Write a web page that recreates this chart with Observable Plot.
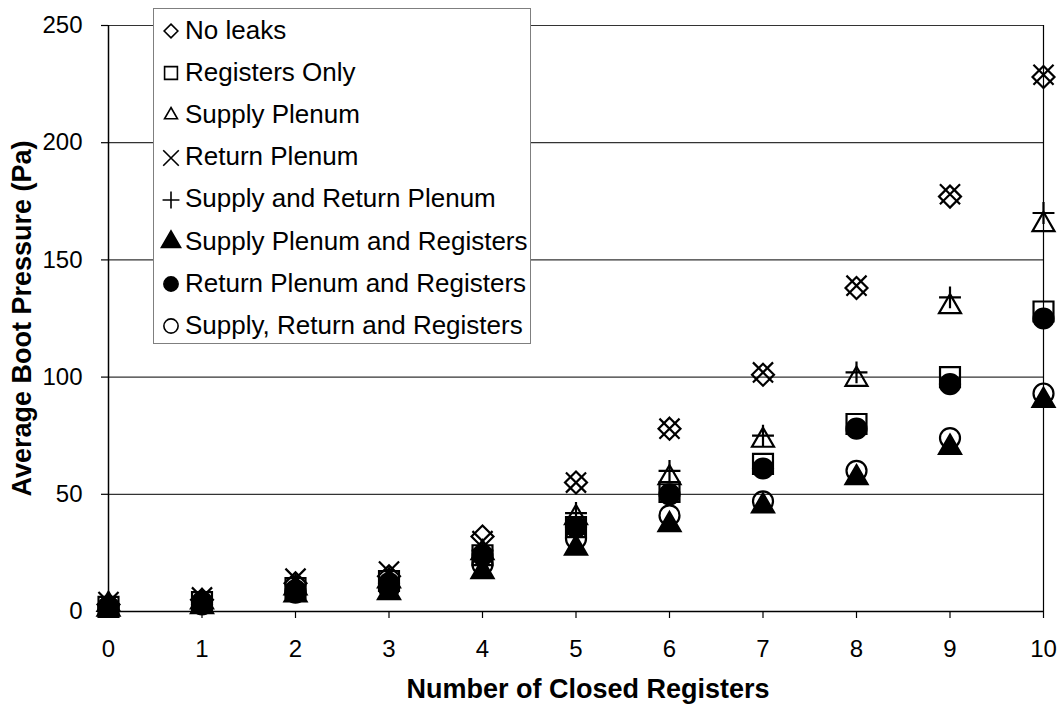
<!DOCTYPE html>
<html><head><meta charset="utf-8">
<script src="https://cdn.jsdelivr.net/npm/d3@7"></script>
<script src="https://cdn.jsdelivr.net/npm/@observablehq/plot@0.6"></script>
<style>
body{margin:0;background:#fff;font-family:"Liberation Sans",Arial,sans-serif;}
#wrap{position:relative;width:1062px;height:713px;}
#legend{position:absolute;left:153px;top:8px;width:378px;height:336px;background:#fff;border:1.5px solid #7f7f7f;box-sizing:border-box;}
.item{position:absolute;left:0;height:42px;display:flex;align-items:center;font-size:26px;color:#000;white-space:nowrap;}
.item svg{flex:none;}
</style></head><body><div id="wrap"></div>
<script>
// Data
const closedRegisters = [0, 1, 2, 3, 4, 5, 6, 7, 8, 9, 10];
const noLeaks          = [3, 5, 12, 15, 32, 55, 78, 101, 138, 177, 228];
const registersOnly    = [2, 4, 10, 13, 24, 36, 51, 63, 80, 100, 128];
const supplyPlenum     = [3, 4, 10, 13, 25, 40, 57, 73, 99, 130, 165];
const returnPlenum     = [4, 6, 14, 17, 30, 55, 78, 102, 139, 178, 229];
const supplyReturnPlenum = [3, 5, 11, 14, 26, 42, 60, 75, 102, 134, 170];
const supplyPlenumRegisters = [1, 2, 7, 8, 17, 27, 37, 45, 57, 70, 90];
const returnPlenumRegisters = [2, 4, 9, 12, 24, 36, 50, 61, 78, 97, 125];
const supplyReturnRegisters = [2, 3, 8, 10, 20, 31, 41, 47, 60, 74, 93];

const seriesNames = ["No leaks", "Registers Only", "Supply Plenum", "Return Plenum",
  "Supply and Return Plenum", "Supply Plenum and Registers", "Return Plenum and Registers",
  "Supply, Return and Registers"];
const seriesValues = [noLeaks, registersOnly, supplyPlenum, returnPlenum,
  supplyReturnPlenum, supplyPlenumRegisters, returnPlenumRegisters, supplyReturnRegisters];
const xTicks = [0, 1, 2, 3, 4, 5, 6, 7, 8, 9, 10];
const yTicks = [0, 50, 100, 150, 200, 250];
const xTitle = "Number of Closed Registers";
const yTitle = "Average Boot Pressure (Pa)";

// marker styles
const markerStyles = [
  {symbol: "diamond2", r: 9.9, fill: "none", d3s: d3.symbolDiamond2, ls: 120},
  {symbol: "square2", r: 12.7, fill: "none", d3s: d3.symbolSquare2, ls: 210},
  {symbol: "triangle2", r: 10.5, fill: "none", d3s: d3.symbolTriangle2, ls: 120},
  {symbol: "times", r: 9.2, fill: "none", d3s: d3.symbolTimes, ls: 160},
  {symbol: "plus", r: 7.1, fill: "none", d3s: d3.symbolPlus, ls: 95},
  {symbol: "triangle", r: 8.2, fill: "black", d3s: d3.symbolTriangle, ls: 160},
  {symbol: "circle", r: 10, fill: "black", d3s: d3.symbolCircle, ls: 160},
  {symbol: "circle", r: 10, fill: "none", d3s: d3.symbolCircle, ls: 160}
];

const rows = [];
seriesNames.forEach((name, i) => {
  closedRegisters.forEach((x, j) => rows.push({series: name, x, y: seriesValues[i][j]}));
});

const dotMarks = seriesNames.map((name, i) => {
  const s = markerStyles[i];
  return Plot.dot(rows.filter(d => d.series === name), {
    x: "x", y: "y", symbol: () => s.symbol, r: s.r,
    fill: s.fill, stroke: "black", strokeWidth: 2.2
  });
});

const chart = Plot.plot({
  width: 1062, height: 713,
  marginLeft: 108, marginRight: 19, marginTop: 25, marginBottom: 102,
  style: {fontFamily: "Liberation Sans, Arial, sans-serif", fontSize: "24px", color: "#000", background: "#fff", overflow: "visible"},
  x: {domain: [0, 10]},
  y: {domain: [0, 250]},
  symbol: {type: "identity"},
  marks: [
    Plot.ruleY(yTicks.filter(d => d > 0), {stroke: "#333", strokeWidth: 1.2}),
    Plot.ruleX([10], {stroke: "#000", strokeWidth: 1.2}),
    Plot.ruleX([0], {stroke: "#000", strokeWidth: 1.5}),
    Plot.ruleY([0], {stroke: "#000", strokeWidth: 1.5}),
    Plot.axisX({ticks: xTicks, tickSize: 7, tickPadding: 21, tickFormat: d => String(d), label: null, strokeWidth: 1.2, fontSize: 24}),
    Plot.axisY({ticks: yTicks, tickSize: 7, tickPadding: 19, tickFormat: d => String(d), label: null, strokeWidth: 1.2, fontSize: 24}),
    ...dotMarks,
    Plot.text([xTitle], {frameAnchor: "bottom", dx: 12, dy: 86, fontWeight: "bold", fontSize: 27, text: d => d}),
    Plot.text([yTitle], {frameAnchor: "left", dx: -86, rotate: -90, textAnchor: "middle", fontWeight: "bold", fontSize: 27, text: d => d})
  ]
});

const wrap = document.getElementById("wrap");
wrap.appendChild(chart);

// Legend
const legend = document.createElement("div");
legend.id = "legend";
seriesNames.forEach((name, i) => {
  const s = markerStyles[i];
  const item = document.createElement("div");
  item.className = "item";
  item.style.top = (0 + i * 42.2) + "px";
  const svgNS = "http://www.w3.org/2000/svg";
  const svg = document.createElementNS(svgNS, "svg");
  svg.setAttribute("width", 31); svg.setAttribute("height", 42);
  const p = document.createElementNS(svgNS, "path");
  p.setAttribute("d", d3.symbol(s.d3s, s.ls)());
  p.setAttribute("transform", "translate(17,22)");
  p.setAttribute("fill", s.fill);
  p.setAttribute("stroke", "black");
  p.setAttribute("stroke-width", 1.6);
  svg.appendChild(p);
  item.appendChild(svg);
  const t = document.createElement("span");
  t.textContent = name;
  item.appendChild(t);
  legend.appendChild(item);
});
wrap.appendChild(legend);
</script></body></html>
